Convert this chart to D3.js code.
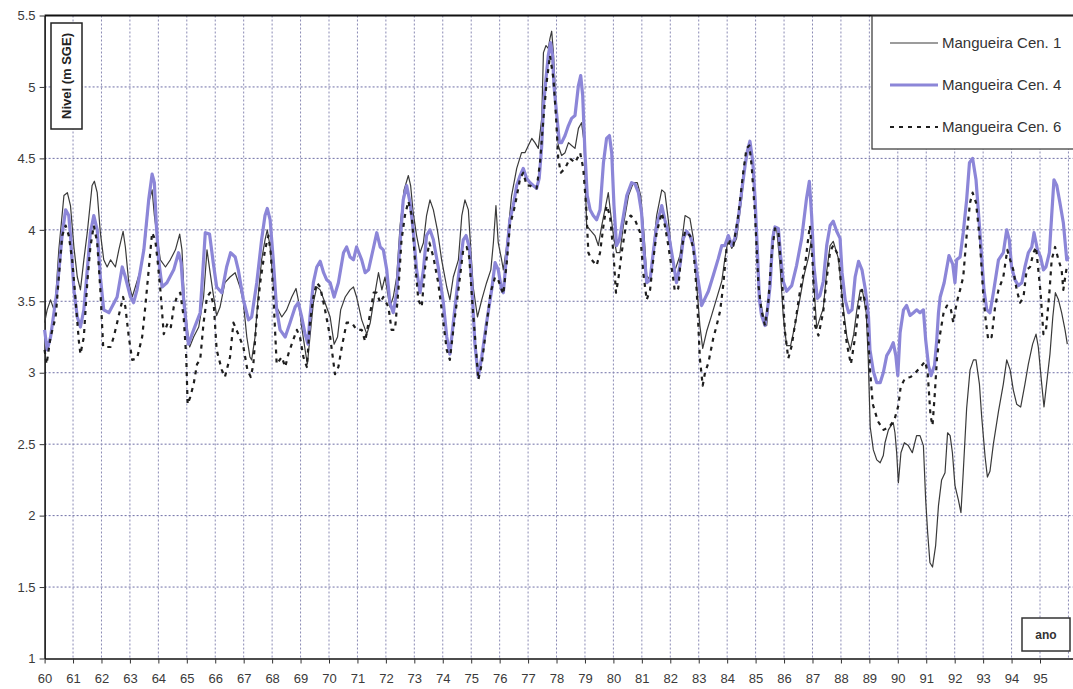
<!DOCTYPE html>
<html>
<head>
<meta charset="utf-8">
<script src="https://cdn.jsdelivr.net/npm/d3@7"></script>
<style>
body { margin: 0; background: #fff; }
text { font-family: "Liberation Sans", Arial, sans-serif; }
</style>
</head>
<body>
<svg id="chart" width="1073" height="689"></svg>
<script>
var seriesNames = ["Mangueira Cen. 1", "Mangueira Cen. 4", "Mangueira Cen. 6"];
var yTicks = [1, 1.5, 2, 2.5, 3, 3.5, 4, 4.5, 5, 5.5];
var xTicks = d3.range(60, 96);
var gridYears = d3.range(61, 97);

// [ano, nivel]
var cen1 = [[60.00,3.35],[60.09,3.44],[60.21,3.51],[60.33,3.44],[60.39,3.53],[60.50,3.86],[60.68,4.24],[60.80,4.26],[60.91,4.17],[61.03,3.88],[61.15,3.67],[61.26,3.58],[61.38,3.79],[61.50,3.98],[61.67,4.31],[61.75,4.34],[61.85,4.26],[61.96,3.98],[62.08,3.79],[62.20,3.74],[62.32,3.79],[62.49,3.74],[62.61,3.86],[62.76,3.99],[62.84,3.88],[62.96,3.63],[63.08,3.53],[63.19,3.60],[63.37,3.72],[63.54,3.93],[63.66,4.19],[63.78,4.28],[63.86,4.10],[63.95,3.96],[64.07,3.79],[64.25,3.74],[64.42,3.79],[64.60,3.86],[64.75,3.97],[64.83,3.86],[64.91,3.53],[65.01,3.32],[65.10,3.18],[65.24,3.25],[65.42,3.32],[65.59,3.53],[65.71,3.86],[65.82,3.70],[65.93,3.55],[66.05,3.40],[66.17,3.46],[66.34,3.63],[66.52,3.67],[66.70,3.70],[66.87,3.60],[66.99,3.49],[67.11,3.25],[67.22,3.11],[67.28,3.09],[67.40,3.25],[67.52,3.56],[67.63,3.79],[67.75,3.93],[67.83,4.00],[67.93,3.88],[68.04,3.63],[68.16,3.46],[68.34,3.39],[68.51,3.44],[68.69,3.53],[68.84,3.59],[68.92,3.51],[69.04,3.32],[69.16,3.16],[69.24,3.06],[69.33,3.25],[69.45,3.49],[69.57,3.60],[69.69,3.58],[69.86,3.49],[70.04,3.39],[70.18,3.20],[70.30,3.25],[70.41,3.44],[70.57,3.53],[70.74,3.58],[70.86,3.60],[70.97,3.53],[71.15,3.37],[71.33,3.27],[71.45,3.35],[71.62,3.56],[71.74,3.70],[71.86,3.58],[71.97,3.67],[72.14,3.46],[72.26,3.53],[72.38,3.67],[72.50,4.03],[72.64,4.28],[72.79,4.38],[72.87,4.31],[72.96,4.12],[73.08,3.96],[73.20,3.84],[73.32,3.91],[73.43,4.10],[73.55,4.21],[73.67,4.14],[73.81,4.00],[73.96,3.79],[74.14,3.60],[74.25,3.51],[74.37,3.67],[74.55,3.79],[74.67,4.10],[74.78,4.21],[74.90,4.14],[74.98,3.88],[75.07,3.60],[75.22,3.39],[75.37,3.51],[75.54,3.63],[75.69,3.72],[75.78,3.91],[75.87,4.17],[75.95,3.91],[76.07,3.79],[76.13,3.72],[76.25,3.89],[76.42,4.24],[76.60,4.43],[76.77,4.54],[76.89,4.54],[77.01,4.59],[77.13,4.64],[77.24,4.61],[77.36,4.57],[77.48,4.78],[77.54,5.24],[77.63,5.29],[77.71,5.27],[77.77,5.34],[77.83,5.39],[77.89,5.24],[77.98,4.89],[78.06,4.59],[78.18,4.52],[78.30,4.54],[78.42,4.61],[78.53,4.59],[78.65,4.57],[78.77,4.71],[78.88,4.75],[78.97,4.61],[79.06,4.03],[79.18,4.00],[79.35,3.96],[79.47,3.89],[79.59,4.03],[79.70,4.14],[79.82,4.26],[79.90,4.12],[80.00,3.96],[80.11,3.84],[80.23,3.84],[80.35,4.03],[80.53,4.24],[80.70,4.33],[80.84,4.33],[80.96,4.24],[81.08,3.96],[81.17,3.68],[81.29,3.65],[81.40,3.86],[81.52,4.10],[81.70,4.28],[81.81,4.26],[81.93,4.07],[82.05,3.84],[82.17,3.72],[82.34,3.82],[82.52,4.10],[82.69,4.08],[82.81,3.94],[82.93,3.61],[83.04,3.33],[83.14,3.17],[83.28,3.29],[83.45,3.40],[83.63,3.52],[83.81,3.64],[83.92,3.80],[84.04,3.94],[84.16,3.87],[84.33,3.94],[84.51,4.22],[84.63,4.45],[84.74,4.57],[84.86,4.55],[84.98,4.17],[85.06,3.85],[85.15,3.52],[85.27,3.40],[85.39,3.33],[85.51,3.61],[85.62,3.99],[85.74,4.01],[85.86,3.75],[85.97,3.40],[86.09,3.19],[86.23,3.19],[86.38,3.33],[86.56,3.52],[86.70,3.68],[86.85,3.80],[86.97,3.94],[87.05,3.61],[87.15,3.31],[87.26,3.38],[87.38,3.45],[87.50,3.71],[87.62,3.89],[87.73,3.92],[87.91,3.80],[87.98,3.67],[88.09,3.44],[88.21,3.25],[88.33,3.16],[88.45,3.27],[88.56,3.44],[88.68,3.58],[88.77,3.56],[88.89,3.42],[88.96,3.10],[89.03,2.62],[89.14,2.46],[89.26,2.39],[89.38,2.37],[89.49,2.42],[89.55,2.51],[89.67,2.60],[89.76,2.63],[89.84,2.65],[89.90,2.58],[89.96,2.44],[90.02,2.23],[90.11,2.44],[90.23,2.51],[90.37,2.49],[90.51,2.44],[90.66,2.56],[90.78,2.56],[90.90,2.49],[90.98,2.11],[91.05,1.88],[91.13,1.67],[91.22,1.64],[91.33,1.79],[91.43,2.07],[91.54,2.25],[91.66,2.30],[91.75,2.58],[91.84,2.56],[91.92,2.44],[92.01,2.21],[92.13,2.11],[92.22,2.02],[92.30,2.30],[92.42,2.75],[92.54,3.02],[92.66,3.09],[92.75,3.09],[92.87,2.92],[92.95,2.69],[93.07,2.41],[93.15,2.27],[93.24,2.31],[93.36,2.50],[93.54,2.73],[93.71,2.92],[93.83,3.09],[93.95,3.02],[94.06,2.88],[94.18,2.78],[94.32,2.76],[94.47,2.92],[94.59,3.06],[94.74,3.20],[94.86,3.27],[94.94,3.18],[95.06,2.92],[95.14,2.76],[95.23,2.92],[95.35,3.13],[95.45,3.39],[95.54,3.56],[95.65,3.51],[95.76,3.42],[95.88,3.30],[95.96,3.20]];

var cen4 = [[60.00,3.30],[60.09,3.16],[60.21,3.25],[60.44,3.58],[60.62,3.97],[60.74,4.14],[60.85,4.10],[60.91,3.96],[61.03,3.58],[61.15,3.39],[61.26,3.32],[61.38,3.44],[61.50,3.72],[61.61,3.98],[61.73,4.10],[61.85,4.00],[61.96,3.67],[62.08,3.44],[62.26,3.42],[62.55,3.53],[62.73,3.74],[62.84,3.67],[63.02,3.53],[63.13,3.49],[63.25,3.58],[63.49,3.86],[63.66,4.21],[63.78,4.39],[63.86,4.33],[63.93,4.03],[64.01,3.79],[64.13,3.60],[64.30,3.63],[64.54,3.72],[64.71,3.84],[64.80,3.77],[64.89,3.51],[65.01,3.27],[65.06,3.20],[65.24,3.30],[65.47,3.42],[65.65,3.98],[65.80,3.97],[65.93,3.77],[66.05,3.60],[66.23,3.56],[66.40,3.74],[66.54,3.84],[66.70,3.81],[66.81,3.72],[66.99,3.51],[67.17,3.37],[67.28,3.39],[67.46,3.63],[67.63,3.93],[67.75,4.10],[67.83,4.15],[67.93,4.07],[68.04,3.79],[68.16,3.44],[68.28,3.30],[68.46,3.25],[68.63,3.35],[68.81,3.46],[68.92,3.49],[69.04,3.39],[69.16,3.27],[69.26,3.20],[69.33,3.39],[69.45,3.63],[69.57,3.74],[69.69,3.78],[69.81,3.70],[69.92,3.65],[70.04,3.63],[70.18,3.53],[70.33,3.63],[70.51,3.84],[70.62,3.88],[70.74,3.81],[70.86,3.79],[70.97,3.88],[71.15,3.79],[71.27,3.70],[71.39,3.72],[71.57,3.88],[71.68,3.98],[71.80,3.88],[71.91,3.86],[72.03,3.72],[72.14,3.49],[72.26,3.42],[72.38,3.56],[72.50,3.91],[72.61,4.21],[72.73,4.31],[72.85,4.19],[72.96,4.00],[73.08,3.72],[73.20,3.56],[73.32,3.72],[73.43,3.96],[73.55,4.00],[73.67,3.93],[73.84,3.74],[74.02,3.49],[74.14,3.25],[74.25,3.13],[74.37,3.35],[74.55,3.67],[74.72,3.93],[74.82,3.96],[74.93,3.88],[75.02,3.63],[75.13,3.20],[75.25,2.97],[75.37,3.11],[75.54,3.35],[75.72,3.58],[75.84,3.77],[75.95,3.72],[76.07,3.58],[76.13,3.56],[76.25,3.84],[76.36,4.07],[76.48,4.17],[76.60,4.31],[76.72,4.38],[76.83,4.43],[76.95,4.36],[77.07,4.33],[77.18,4.31],[77.30,4.29],[77.39,4.36],[77.48,4.59],[77.54,4.87],[77.63,5.06],[77.71,5.22],[77.79,5.31],[77.86,5.22],[77.91,5.01],[78.00,4.82],[78.10,4.61],[78.18,4.61],[78.30,4.66],[78.42,4.73],[78.53,4.78],[78.65,4.80],[78.77,5.01],[78.85,5.08],[78.92,4.94],[79.00,4.54],[79.08,4.24],[79.18,4.14],[79.29,4.10],[79.41,4.07],[79.53,4.14],[79.65,4.47],[79.76,4.64],[79.86,4.66],[79.94,4.54],[80.02,4.17],[80.11,3.89],[80.21,3.93],[80.33,4.07],[80.47,4.24],[80.64,4.33],[80.76,4.32],[80.88,4.26],[80.99,4.12],[81.08,3.84],[81.17,3.63],[81.29,3.65],[81.40,3.84],[81.52,4.03],[81.70,4.17],[81.81,4.07],[81.93,3.98],[82.05,3.84],[82.22,3.63],[82.34,3.75],[82.46,3.94],[82.57,3.99],[82.69,3.96],[82.81,3.89],[82.93,3.71],[83.04,3.57],[83.10,3.47],[83.22,3.52],[83.34,3.57],[83.51,3.68],[83.69,3.80],[83.81,3.89],[83.92,3.89],[84.04,3.96],[84.16,3.89],[84.27,3.94],[84.39,4.08],[84.51,4.27],[84.63,4.45],[84.71,4.55],[84.80,4.62],[84.90,4.48],[84.98,4.22],[85.06,3.87],[85.13,3.52],[85.21,3.40],[85.33,3.33],[85.41,3.43],[85.51,3.61],[85.60,3.94],[85.68,4.02],[85.80,4.01],[85.88,3.82],[85.97,3.64],[86.09,3.57],[86.27,3.61],[86.44,3.75],[86.62,3.94],[86.79,4.22],[86.89,4.34],[86.97,4.10],[87.05,3.75],[87.17,3.52],[87.26,3.54],[87.38,3.64],[87.50,3.89],[87.62,4.03],[87.73,4.06],[87.85,3.99],[87.97,3.94],[88.04,3.70],[88.15,3.51],[88.27,3.42],[88.39,3.44],[88.50,3.67],[88.62,3.78],[88.74,3.72],[88.86,3.58],[88.97,3.39],[89.02,3.16],[89.14,3.01],[89.26,2.93],[89.38,2.93],[89.49,3.00],[89.61,3.12],[89.73,3.16],[89.84,3.21],[89.93,3.12],[90.00,2.98],[90.08,3.28],[90.20,3.44],[90.31,3.47],[90.43,3.40],[90.55,3.42],[90.66,3.44],[90.78,3.42],[90.90,3.44],[90.98,3.23],[91.08,3.05],[91.17,2.98],[91.29,3.05],[91.37,3.23],[91.43,3.42],[91.49,3.53],[91.63,3.63],[91.80,3.82],[91.93,3.76],[92.01,3.63],[92.07,3.79],[92.19,3.81],[92.30,3.98],[92.42,4.21],[92.52,4.47],[92.63,4.50],[92.75,4.35],[92.87,4.03],[92.95,3.81],[93.03,3.58],[93.13,3.44],[93.24,3.42],[93.36,3.56],[93.54,3.79],[93.71,3.84],[93.83,4.00],[93.92,3.93],[94.00,3.74],[94.12,3.65],[94.24,3.61],[94.36,3.63],[94.47,3.74],[94.59,3.84],[94.71,3.88],[94.79,3.98],[94.91,3.86],[95.02,3.81],[95.12,3.72],[95.21,3.74],[95.33,3.84],[95.41,4.10],[95.49,4.35],[95.59,4.31],[95.70,4.19],[95.82,4.05],[95.94,3.79],[96.00,3.81]];

var cen6 = [[60.00,3.16],[60.07,3.06],[60.21,3.25],[60.39,3.39],[60.50,3.67],[60.62,3.96],[60.74,4.03],[60.85,3.96],[60.97,3.79],[61.09,3.51],[61.20,3.23],[61.26,3.13],[61.38,3.25],[61.50,3.63],[61.61,3.88],[61.73,4.03],[61.85,3.91],[61.96,3.58],[62.06,3.18],[62.20,3.18],[62.32,3.18],[62.43,3.25],[62.55,3.35],[62.76,3.53],[62.84,3.46],[62.96,3.25],[63.08,3.09],[63.25,3.10],[63.43,3.25],[63.54,3.46],[63.66,3.72],[63.78,3.98],[63.89,3.93],[63.98,3.77],[64.07,3.58],[64.19,3.27],[64.33,3.35],[64.44,3.32],[64.54,3.46],[64.65,3.53],[64.77,3.56],[64.89,3.39],[64.98,3.11],[65.03,2.78],[65.12,2.83],[65.24,2.92],[65.36,3.06],[65.47,3.09],[65.59,3.35],[65.71,3.53],[65.82,3.56],[65.95,3.47],[66.05,3.16],[66.23,3.02],[66.34,2.97],[66.52,3.11],[66.64,3.35],[66.81,3.27],[66.99,3.18],[67.13,3.02],[67.25,2.97],[67.34,3.06],[67.46,3.39],[67.58,3.63],[67.75,3.86],[67.87,3.96],[67.95,3.84],[68.04,3.56],[68.16,3.06],[68.34,3.11],[68.46,3.04],[68.57,3.13],[68.69,3.20],[68.87,3.30],[68.98,3.25],[69.10,3.11],[69.22,3.04],[69.33,3.35],[69.45,3.53],[69.57,3.63],[69.69,3.60],[69.86,3.44],[70.04,3.25],[70.21,2.99],[70.33,3.04],[70.45,3.18],[70.62,3.35],[70.80,3.35],[70.97,3.30],[71.15,3.30],[71.27,3.22],[71.39,3.35],[71.57,3.56],[71.68,3.56],[71.80,3.49],[71.91,3.53],[72.09,3.46],[72.20,3.30],[72.32,3.30],[72.44,3.58],[72.55,3.93],[72.67,4.10],[72.79,4.20],[72.91,4.10],[73.02,3.79],[73.14,3.51],[73.26,3.46],[73.38,3.74],[73.53,3.91],[73.67,3.81],[73.84,3.63],[74.02,3.35],[74.14,3.16],[74.25,3.09],[74.37,3.30],[74.55,3.58],[74.72,3.86],[74.84,3.88],[74.93,3.81],[75.05,3.46],[75.17,3.16],[75.25,2.95],[75.37,3.06],[75.52,3.30],[75.68,3.56],[75.84,3.67],[75.95,3.65],[76.13,3.55],[76.25,3.77],[76.36,4.03],[76.54,4.17],[76.72,4.36],[76.83,4.40],[76.95,4.31],[77.07,4.31],[77.18,4.29],[77.30,4.29],[77.42,4.47],[77.54,4.78],[77.65,5.03],[77.77,5.22],[77.89,5.06],[77.98,4.80],[78.06,4.50],[78.15,4.40],[78.30,4.43],[78.47,4.50],[78.65,4.47],[78.83,4.54],[78.94,4.43],[79.04,4.17],[79.12,3.84],[79.24,3.79],[79.41,3.75],[79.53,3.84],[79.65,4.03],[79.76,4.17],[79.88,4.10],[80.00,3.84],[80.09,3.56],[80.17,3.65],[80.29,3.84],[80.47,4.07],[80.61,4.10],[80.76,4.07],[80.94,3.98],[81.05,3.70],[81.17,3.51],[81.29,3.58],[81.40,3.79],[81.52,3.98],[81.70,4.12],[81.81,4.03],[81.93,3.89],[82.11,3.65],[82.16,3.57],[82.28,3.59],[82.40,3.87],[82.52,3.99],[82.69,3.96],[82.81,3.87],[82.93,3.57],[83.04,3.10],[83.14,2.91],[83.22,3.00],[83.34,3.07],[83.51,3.24],[83.63,3.33],[83.75,3.43],[83.86,3.61],[83.98,3.87],[84.10,3.92],[84.22,3.89],[84.39,4.10],[84.57,4.41],[84.68,4.57],[84.78,4.59],[84.86,4.45],[84.98,4.10],[85.10,3.61],[85.21,3.43],[85.33,3.33],[85.45,3.50],[85.56,3.82],[85.68,4.01],[85.80,3.99],[85.92,3.68],[86.03,3.29],[86.15,3.10],[86.27,3.19],[86.38,3.33],[86.56,3.57],[86.74,3.75],[86.85,3.94],[86.91,4.03],[87.01,3.75],[87.09,3.33],[87.21,3.26],[87.38,3.43],[87.50,3.66],[87.62,3.85],[87.73,3.89],[87.91,3.82],[87.98,3.67],[88.09,3.39],[88.21,3.20],[88.35,3.06],[88.50,3.25],[88.62,3.44],[88.74,3.58],[88.86,3.49],[88.94,3.30],[89.03,3.00],[89.12,2.78],[89.30,2.66],[89.50,2.60],[89.70,2.62],[89.88,2.67],[90.02,2.77],[90.10,2.90],[90.25,2.96],[90.45,2.97],[90.62,3.00],[90.84,3.05],[90.96,3.08],[91.05,3.00],[91.15,2.70],[91.22,2.63],[91.30,2.85],[91.38,3.11],[91.47,3.25],[91.61,3.42],[91.73,3.47],[91.85,3.46],[91.95,3.35],[92.07,3.49],[92.19,3.58],[92.30,3.67],[92.42,3.96],[92.54,4.19],[92.63,4.26],[92.75,4.19],[92.87,3.96],[92.95,3.72],[93.01,3.53],[93.10,3.35],[93.18,3.23],[93.30,3.25],[93.42,3.46],[93.54,3.58],[93.71,3.67],[93.85,3.86],[93.95,3.79],[94.06,3.72],[94.18,3.58],[94.30,3.49],[94.42,3.53],[94.53,3.72],[94.65,3.74],[94.77,3.84],[94.86,3.88],[94.94,3.72],[95.02,3.56],[95.12,3.27],[95.21,3.30],[95.33,3.56],[95.41,3.79],[95.53,3.88],[95.65,3.79],[95.76,3.72],[95.82,3.58],[95.94,3.74]];

var svg = d3.select("#chart");
var width = +svg.attr("width");
var height = +svg.attr("height");

var x = d3.scaleLinear().domain([60, 96.16]).range([44.6, 1073]);
var y = d3.scaleLinear().domain([1, 5.5]).range([658.5, 15.5]);

//grid
svg.append("g")
  .selectAll("line")
  .data(yTicks.filter(function(d) { return d > 1 && d < 5.5; }))
  .enter()
  .append("line")
  .attr("x1", x(60)).attr("x2", width)
  .attr("y1", function(d) { return y(d); })
  .attr("y2", function(d) { return y(d); })
  .attr("stroke", "#6f6fa6")
  .attr("stroke-width", 1)
  .attr("stroke-dasharray", "2,2");

svg.append("g")
  .selectAll("line")
  .data(gridYears)
  .enter()
  .append("line")
  .attr("x1", function(d) { return x(d); })
  .attr("x2", function(d) { return x(d); })
  .attr("y1", y(5.5)).attr("y2", y(1))
  .attr("stroke", "#8a8ab4")
  .attr("stroke-width", 1)
  .attr("stroke-dasharray", "2,2");

//axes
var xAxis = svg.append("g")
  .attr("transform", "translate(0," + y(1) + ")")
  .call(d3.axisBottom(x).tickValues(xTicks).tickSize(5).tickSizeOuter(0).tickPadding(10)
    .tickFormat(function(d) { return d; }));

var yAxis = svg.append("g")
  .attr("transform", "translate(" + x(60) + ",0)")
  .call(d3.axisLeft(y).tickValues(yTicks).tickSize(5).tickSizeOuter(0).tickPadding(4)
    .tickFormat(function(d) { return String(d); }));

[xAxis, yAxis].forEach(function(a) {
  a.select(".domain").attr("stroke", "#111").attr("stroke-width", 1.6);
  a.selectAll(".tick line").attr("stroke", "#333");
  a.selectAll("text").attr("font-size", 13).attr("fill", "#3a3a3a")
    .attr("font-family", "Liberation Sans, Arial, sans-serif");
});

svg.append("line")
  .attr("x1", x(60)).attr("x2", width)
  .attr("y1", y(5.5)).attr("y2", y(5.5))
  .attr("stroke", "#111").attr("stroke-width", 2);

//series
var line = d3.line()
  .x(function(d) { return x(d[0]); })
  .y(function(d) { return y(d[1]); });

var styles = [
  {data: cen1, color: "#3a3a3a", width: 1.2, dash: null},
  {data: cen4, color: "#8c86d8", width: 3.2, dash: null},
  {data: cen6, color: "#1e1e1e", width: 2.2, dash: "4,5"}
];

svg.append("g")
  .selectAll("path")
  .data(styles)
  .enter()
  .append("path")
  .attr("d", function(d) { return line(d.data); })
  .attr("fill", "none")
  .attr("stroke", function(d) { return d.color; })
  .attr("stroke-width", function(d) { return d.width; })
  .attr("stroke-dasharray", function(d) { return d.dash; })
  .attr("stroke-linejoin", "round");

//legend
var legend = svg.append("g");
legend.append("rect")
  .attr("x", 872).attr("y", 16).attr("width", 210).attr("height", 133)
  .attr("fill", "#fff").attr("stroke", "#333").attr("stroke-width", 1.2);

var entries = legend.selectAll("g.entry")
  .data(styles)
  .enter()
  .append("g")
  .attr("class", "entry")
  .attr("transform", function(d, i) { return "translate(0," + (43 + i * 42) + ")"; });

entries.append("line")
  .attr("x1", 890).attr("x2", 938)
  .attr("stroke", function(d) { return d.color; })
  .attr("stroke-width", function(d) { return d.width; })
  .attr("stroke-dasharray", function(d) { return d.dash; });

entries.append("text")
  .attr("x", 942).attr("y", 5)
  .attr("font-size", 15)
  .attr("fill", "#333")
  .text(function(d, i) { return seriesNames[i]; });

//axis titles
svg.append("rect")
  .attr("x", 51).attr("y", 23).attr("width", 31).attr("height", 106)
  .attr("fill", "#fff").attr("stroke", "#222").attr("stroke-width", 1.5);
svg.append("text")
  .attr("transform", "translate(66.5,76) rotate(-90)")
  .attr("text-anchor", "middle")
  .attr("dominant-baseline", "central")
  .attr("font-size", 13).attr("font-weight", "bold").attr("fill", "#222")
  .text("Nivel (m SGE)");

svg.append("rect")
  .attr("x", 1022).attr("y", 618).attr("width", 48).attr("height", 33)
  .attr("fill", "#fff").attr("stroke", "#333").attr("stroke-width", 1.5);
svg.append("text")
  .attr("x", 1046).attr("y", 635)
  .attr("text-anchor", "middle")
  .attr("dominant-baseline", "central")
  .attr("font-size", 12).attr("font-weight", "bold").attr("fill", "#333")
  .text("ano");
</script>
</body>
</html>
